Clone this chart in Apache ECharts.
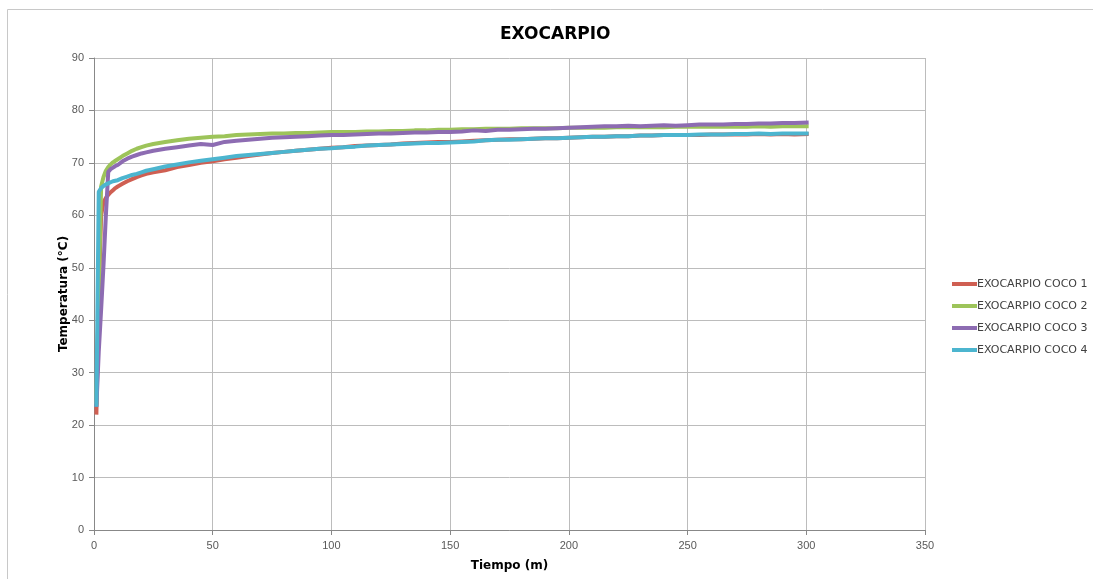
<!DOCTYPE html>
<html>
<head>
<meta charset="utf-8">
<script src="https://cdn.jsdelivr.net/npm/echarts@6/dist/echarts.min.js"></script>
<style>
html,body{margin:0;padding:0;background:#fff;}
#chart{width:1093px;height:579px;}
</style>
</head>
<body>
<div id="chart"></div>
<script>
const times = [1,2,3,4,5,6,7,8,9,10,12,14,16,18,20,22,25,
  30,35,40,45,50,55,60,65,70,75,80,85,90,95,100,105,110,115,120,125,130,135,140,145,150,
  155,160,165,170,175,180,185,190,195,200,205,210,215,220,225,230,235,240,245,250,
  255,260,265,270,275,280,285,290,295,301];

const coco1 = [22.0,45.0,60.0,62.5,63.3,63.9,64.4,64.8,65.2,65.5,66.0,66.5,66.9,67.3,67.6,67.9,68.2,
  68.6,69.2,69.6,70.0,70.3,70.7,71.0,71.3,71.6,71.9,72.1,72.3,72.5,72.7,72.9,73.0,73.2,73.3,73.4,73.5,73.7,73.8,73.9,74.0,74.0,
  74.1,74.2,74.3,74.4,74.5,74.5,74.6,74.7,74.7,74.8,74.9,75.0,75.0,75.1,75.1,75.2,75.2,75.3,75.3,75.3,
  75.3,75.4,75.4,75.4,75.4,75.5,75.4,75.5,75.4,75.5];

const coco2 = [24.0,45.0,65.5,67.3,68.5,69.2,69.7,70.1,70.4,70.7,71.3,71.8,72.3,72.7,73.0,73.3,73.6,
  74.0,74.3,74.6,74.8,75.0,75.1,75.3,75.4,75.5,75.6,75.6,75.7,75.7,75.8,75.9,75.9,75.9,76.0,76.0,76.1,76.1,76.2,76.2,76.3,76.3,
  76.4,76.4,76.5,76.5,76.5,76.6,76.6,76.6,76.6,76.7,76.7,76.7,76.7,76.8,76.8,76.8,76.8,76.8,76.9,76.9,
  76.9,76.9,76.9,76.9,76.9,77.0,76.9,77.0,77.0,77.0];

const coco3 = [23.5,34.0,42.0,50.5,60.0,68.3,68.8,69.1,69.4,69.6,70.3,70.8,71.2,71.5,71.8,72.0,72.3,
  72.7,73.0,73.3,73.6,73.4,74.0,74.2,74.4,74.6,74.8,74.9,75.0,75.1,75.2,75.3,75.3,75.4,75.5,75.6,75.6,75.7,75.8,75.8,75.9,75.9,
  76.0,76.2,76.1,76.3,76.3,76.4,76.5,76.5,76.6,76.7,76.8,76.9,77.0,77.0,77.1,77.0,77.1,77.2,77.1,77.2,
  77.3,77.3,77.3,77.4,77.4,77.5,77.5,77.6,77.6,77.7];

const coco4 = [23.5,64.5,65.2,65.6,65.9,66.1,66.3,66.5,66.6,66.7,67.1,67.4,67.7,67.9,68.2,68.5,68.8,
  69.3,69.7,70.1,70.4,70.7,71.0,71.3,71.5,71.7,71.9,72.1,72.3,72.5,72.7,72.8,73.0,73.1,73.3,73.4,73.5,73.6,73.7,73.8,73.8,73.9,
  74.0,74.1,74.3,74.4,74.4,74.5,74.6,74.7,74.7,74.8,74.9,75.0,75.0,75.1,75.1,75.2,75.2,75.3,75.3,75.3,
  75.4,75.4,75.4,75.5,75.5,75.6,75.5,75.6,75.6,75.6];

const seriesNames = ['EXOCARPIO COCO 1','EXOCARPIO COCO 2','EXOCARPIO COCO 3','EXOCARPIO COCO 4'];
const seriesValues = [coco1, coco2, coco3, coco4];
const colors = ['#CF5F52','#9DC45A','#8D6CB2','#4CB5CF'];
const xTicks = [0,350,50];
const yTicks = [0,90,10];

const chart = echarts.init(document.getElementById('chart'));
const font = 'DejaVu Sans';
chart.setOption({
  animation: false,
  backgroundColor: '#ffffff',
  graphic: [{
    type: 'rect', silent: true,
    shape: {x: 7.5, y: 9.5, width: 1200, height: 700},
    style: {fill: 'none', stroke: '#c8c8c8', lineWidth: 1}
  }],
  title: {
    text: 'EXOCARPIO', left: 495, top: 21,
    textStyle: {fontFamily: font, fontSize: 17, fontWeight: 'bold', color: '#000'}
  },
  legend: {
    orient: 'vertical', left: 947, top: 272, itemGap: 8,
    itemWidth: 25, itemHeight: 4, icon: 'rect',
    textStyle: {fontFamily: font, fontSize: 11, color: '#404040', padding: [0,0,0,-5], lineHeight: 14},
    data: seriesNames
  },
  grid: {left: 94, right: 168, top: 58, bottom: 49},
  xAxis: {
    type: 'value', min: xTicks[0], max: xTicks[1], interval: xTicks[2],
    name: 'Tiempo (m)', nameLocation: 'middle', nameGap: 30, nameMoveOverlap: false,
    nameTextStyle: {fontFamily: font, fontSize: 12, fontWeight: 'bold', color: '#000'},
    axisLine: {lineStyle: {color: '#888888'}},
    axisTick: {show: true, length: 5, lineStyle: {color: '#888888'}},
    axisLabel: {fontFamily: 'Liberation Sans', fontSize: 11, color: '#595959', margin: 10},
    splitLine: {show: true, lineStyle: {color: '#bcbcbc', width: 1}}
  },
  yAxis: {
    type: 'value', min: yTicks[0], max: yTicks[1], interval: yTicks[2],
    name: 'Temperatura (°C)', nameLocation: 'middle', nameGap: 24, nameMoveOverlap: false,
    nameTextStyle: {fontFamily: font, fontSize: 12, fontWeight: 'bold', color: '#000'},
    axisLine: {show: true, lineStyle: {color: '#888888'}},
    axisTick: {show: true, length: 5, lineStyle: {color: '#888888'}},
    axisLabel: {fontFamily: 'Liberation Sans', fontSize: 11, color: '#595959', margin: 10},
    splitLine: {show: true, lineStyle: {color: '#bcbcbc', width: 1}}
  },
  series: seriesNames.map((n, i) => ({
    name: n, type: 'line', showSymbol: false, symbol: 'none',
    color: colors[i],
    lineStyle: {width: 4, color: colors[i]},
    data: times.map((t, j) => [t, seriesValues[i][j]])
  }))
});
</script>
</body>
</html>
